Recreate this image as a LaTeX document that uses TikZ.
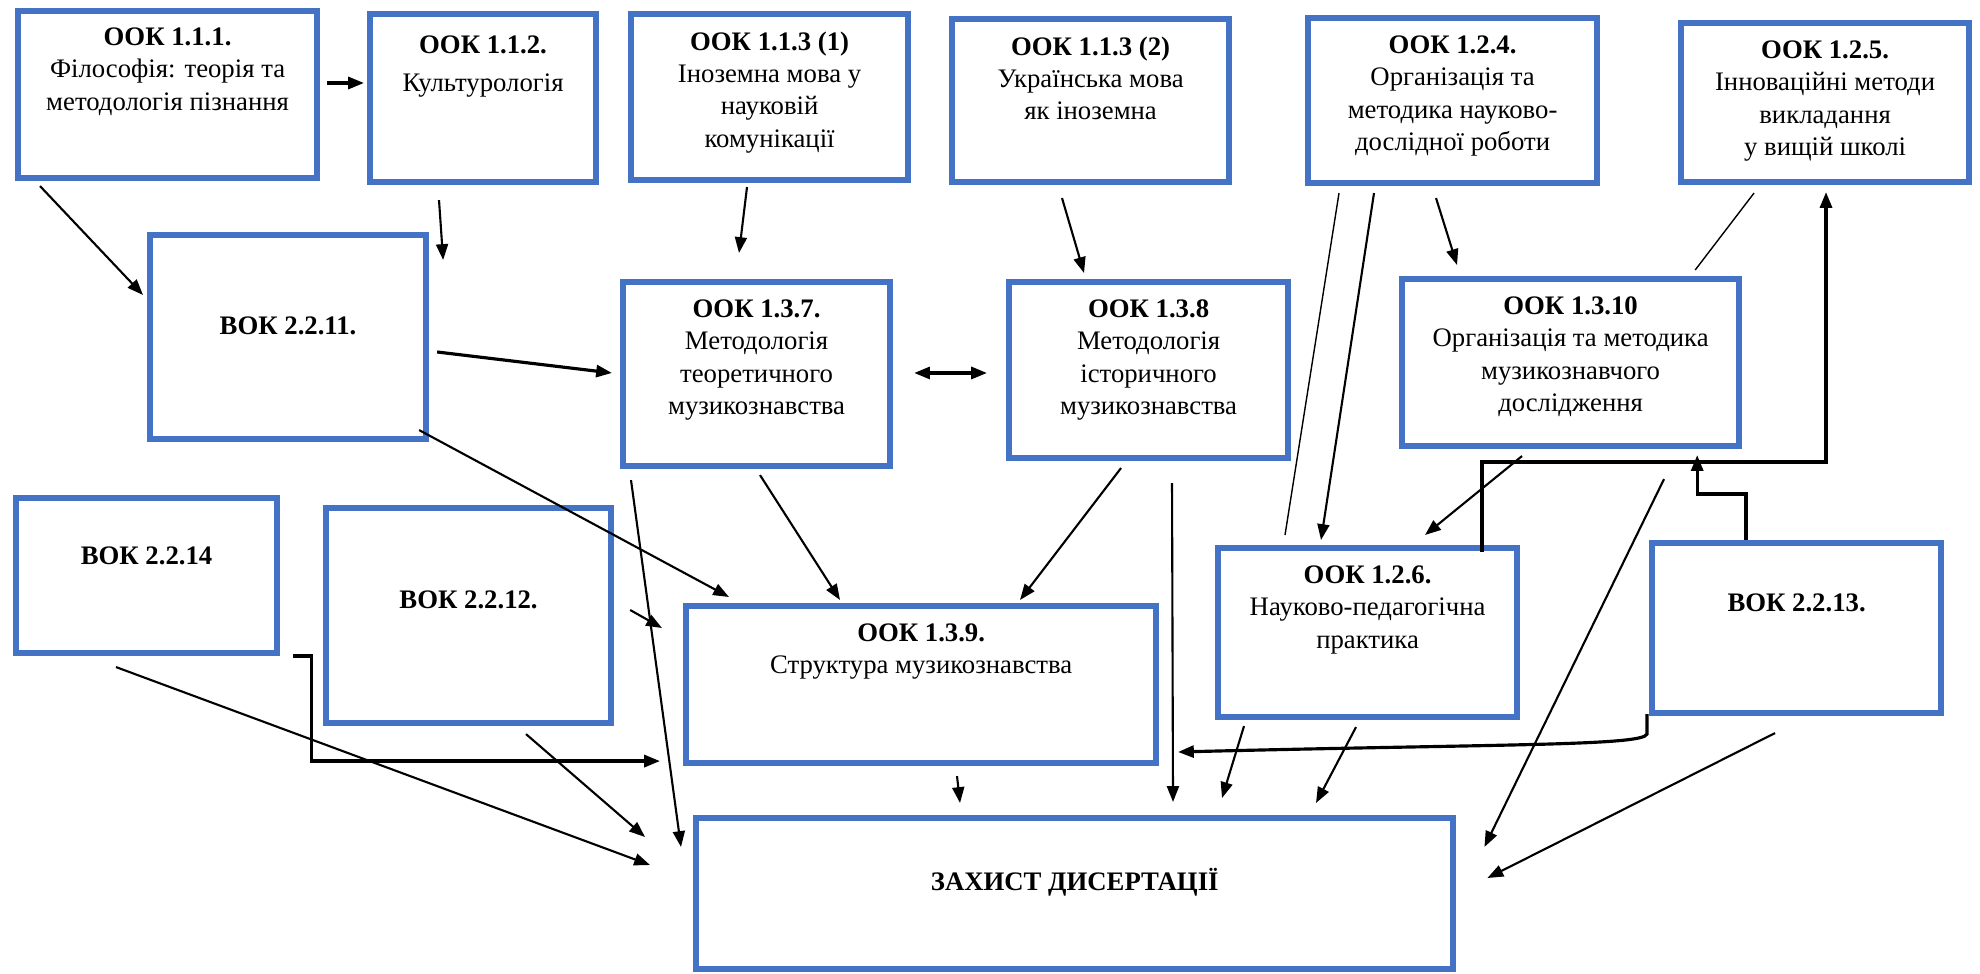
\documentclass[tikz,border=0pt]{standalone}
\usepackage{fontspec}
\setmainfont{Liberation Serif}
\usetikzlibrary{arrows.meta,positioning}
\definecolor{boxblue}{HTML}{4472C4}
\tikzset{
  box/.style={draw=boxblue, line width=1.7pt, anchor=north west, inner sep=0pt},
  txt/.style={align=center, inner sep=0pt, font=\fontsize{7.6}{9.2}\selectfont},
  arr/.style={-{Triangle[length=4.5pt,width=3.4pt]}, line width=0.6pt},
  arrthk/.style={arr, line width=0.9pt},
  thinln/.style={line width=0.4pt}
}
\begin{document}
\begin{tikzpicture}[x=0.01cm, y=-0.01cm]
\useasboundingbox (0,0) rectangle (1980,974);

% boxes
\node[box, minimum width=2.99cm, minimum height=1.67cm] (b111) at (15,8) {};
\node[box, minimum width=2.26cm, minimum height=1.68cm] (b112) at (367,11) {};
\node[box, minimum width=2.77cm, minimum height=1.66cm] (b1131) at (628,11) {};
\node[box, minimum width=2.77cm, minimum height=1.63cm] (b1132) at (949,16) {};
\node[box, minimum width=2.89cm, minimum height=1.65cm] (b124) at (1305,15) {};
\node[box, minimum width=2.88cm, minimum height=1.59cm] (b125) at (1678,20) {};
\node[box, minimum width=2.76cm, minimum height=2.04cm] (b2211) at (147,232) {};
\node[box, minimum width=2.67cm, minimum height=1.84cm] (b137) at (620,279) {};
\node[box, minimum width=2.79cm, minimum height=1.76cm] (b138) at (1006,279) {};
\node[box, minimum width=3.37cm, minimum height=1.67cm] (b1310) at (1399,276) {};
\node[box, minimum width=2.61cm, minimum height=1.55cm] (b2214) at (13,495) {};
\node[box, minimum width=2.85cm, minimum height=2.15cm] (b2212) at (323,505) {};
\node[box, minimum width=4.70cm, minimum height=1.57cm] (b139) at (683,603) {};
\node[box, minimum width=2.99cm, minimum height=1.69cm] (b126) at (1215,545) {};
\node[box, minimum width=2.89cm, minimum height=1.70cm] (b2213) at (1649,540) {};
\node[box, minimum width=7.57cm, minimum height=1.51cm] (bdef) at (693,815) {};

% texts
\node[txt, below=0.19cm of b111.north] (t111) {\textbf{ООК 1.1.1.}\\Філософія: теорія та\\методологія пізнання};
\node[txt, below=0.24cm of b112.north] (t112) {\textbf{ООК 1.1.2.}\\[1.5pt]Культурологія};
\node[txt, below=0.2cm of b1131.north] (t1131) {\textbf{ООК 1.1.3 (1)}\\Іноземна мова у\\науковій\\комунікації};
\node[txt, below=0.2cm of b1132.north] (t1132) {\textbf{ООК 1.1.3 (2)}\\Українська мова\\як іноземна};
\node[txt, below=0.2cm of b124.north] (t124) {\textbf{ООК 1.2.4.}\\Організація та\\методика науково-\\дослідної роботи};
\node[txt, below=0.2cm of b125.north] (t125) {\textbf{ООК 1.2.5.}\\Інноваційні методи\\викладання\\у вищій школі};
\node[txt, below=0.84cm of b2211.north] (t2211) {\textbf{ВОК 2.2.11.}};
\node[txt, below=0.2cm of b137.north] (t137) {\textbf{ООК 1.3.7.}\\Методологія\\теоретичного\\музикознавства};
\node[txt, below=0.2cm of b138.north] (t138) {\textbf{ООК 1.3.8}\\Методологія\\історичного\\музикознавства};
\node[txt, below=0.2cm of b1310.north] (t1310) {\textbf{ООК 1.3.10}\\Організація та методика\\музикознавчого\\дослідження};
\node[txt, below=0.51cm of b2214.north] (t2214) {\textbf{ВОК 2.2.14}};
\node[txt, below=0.85cm of b2212.north] (t2212) {\textbf{ВОК 2.2.12.}};
\node[txt, below=0.2cm of b139.north] (t139) {\textbf{ООК 1.3.9.}\\Структура музикознавства};
\node[txt, below=0.2cm of b126.north] (t126) {\textbf{ООК 1.2.6.}\\Науково-педагогічна\\практика};
\node[txt, below=0.53cm of b2213.north] (t2213) {\textbf{ВОК 2.2.13.}};
\node[txt, below=0.53cm of bdef.north] (tdef) {\textbf{ЗАХИСТ ДИСЕРТАЦІЇ}};

% top row
\draw[arrthk] ([shift={(7,75)}]b111.north east) -- ([shift={(-3,72)}]b112.north west);
\draw[arr] ([shift={(25,5)}]b111.south west) -- ([shift={(-4,63)}]b2211.north west);
\draw[arr] ([shift={(72,15)}]b112.south west) -- ([shift={(14,28)}]b2211.north east);
\draw[arr] ([shift={(119,4)}]b1131.south west) -- ([shift={(119,-26)}]b137.north west);
\draw[arr] ([shift={(113,13)}]b1132.south west) -- ([shift={(78,-6)}]b138.north west);
\draw[thinln] ([shift={(34,7)}]b124.south west) -- ([shift={(70,-10)}]b126.north west);
\draw[arr] ([shift={(69,7)}]b124.south west) -- ([shift={(106,-5)}]b126.north west);
\draw[arr] ([shift={(131,12)}]b124.south west) -- ([shift={(58,-11)}]b1310.north west);
\draw[thinln] ([shift={(76,8)}]b125.south west) -- ([shift={(-47,-6)}]b1310.north east);

% right part
\draw[arrthk] ([shift={(267,7)}]b126.north west) |- ([shift={(148,277)}]b125.south west)
  -- ([shift={(148,7)}]b125.south west);
\draw[arrthk] ([shift={(97,0)}]b2213.north west) -- ++(0,-46) -| ([shift={(-45,6)}]b1310.south east);
\draw[arr] ([shift={(123,7)}]b1310.south west) -- ([shift={(210,-10)}]b126.north west);
\draw[arr] ([shift={(265,30)}]b1310.south west) -- ([shift={(28,32)}]bdef.north east);
\draw[arr] ([shift={(126,17)}]b2213.south west) -- ([shift={(31,63)}]bdef.north east);
\draw[arrthk] ([shift={(-2,-2)}]b2213.south west) -- ++(0,20)
  .. controls +(-4,12) and +(320,-8) .. ([shift={(485,-63)}]bdef.north west);

% middle
\draw[arr] ([shift={(166,22)}]b138.south west) -- ([shift={(480,-13)}]bdef.north west);
\draw[arr] ([shift={(115,7)}]b138.south west) -- ([shift={(337,-3)}]b139.north west);
\draw[arr] ([shift={(140,6)}]b137.south west) -- ([shift={(157,-3)}]b139.north west);
\draw[arr] ([shift={(11,11)}]b137.south west) -- ([shift={(-12,32)}]bdef.north west);
\draw[arrthk, {Triangle[length=4.5pt,width=3.4pt]}-{Triangle[length=4.5pt,width=3.4pt]}]
  ([shift={(21,94)}]b137.north east) -- ([shift={(-19,94)}]b138.north west);
\draw[arrthk] ([shift={(8,120)}]b2211.north east) -- ([shift={(-8,94)}]b137.north west);
\draw[arr] ([shift={(-10,-12)}]b2211.south east) -- ([shift={(46,-6)}]b139.north west);

% left bottom
\draw[arr] ([shift={(16,105)}]b2212.north east) -- ([shift={(-21,25)}]b139.north west);
\draw[arr] ([shift={(203,8)}]b2212.south west) -- ([shift={(-48,22)}]bdef.north west);
\draw[arrthk] ([shift={(13,0)}]b2214.south east) -- ++(18,0) |- ([shift={(-23,-5)}]b139.south west);
\draw[arr] ([shift={(103,11)}]b2214.south west) -- ([shift={(-43,50)}]bdef.north west);

% into defence
\draw[arr] ([shift={(274,10)}]b139.south west) -- ([shift={(267,-12)}]bdef.north west);
\draw[arr] ([shift={(29,6)}]b126.south west) -- ([shift={(529,-17)}]bdef.north west);
\draw[arr] ([shift={(141,7)}]b126.south west) -- ([shift={(623,-12)}]bdef.north west);

\end{tikzpicture}
\end{document}
